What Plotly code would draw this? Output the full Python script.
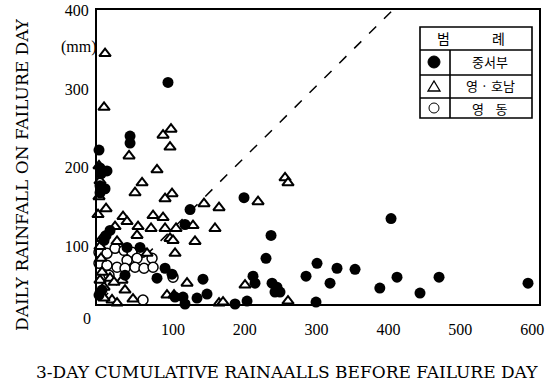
import plotly.graph_objects as go

# ---- data (x: 3-day cumulative rainfall mm, y: daily rainfall on failure day mm) ----
central_x = [93.2, 40.4, 40.4, -2.8, -1.4, 8.3, 0.0, -1.4, 5.6, -1.4, 199.0, 123.9, 116.9,
             12.5, 7.0, 4.2, 36.2, 54.3, 403.6, 236.6, 229.6, 300.6, 328.4, 353.5, 285.3,
             141.9, 211.5, 214.3, 238.0, 244.9, 249.1, 242.1, 318.7, 411.9, 470.4, 594.2,
             388.0, 443.9, 147.5, 133.6, 203.2, 186.5, 233.8, 293.6, 299.2, 353.5, 402.2,
             89.1, 98.8, 77.9, 33.4, 1.4, -2.8, 103.0, 114.1, 116.9, 109.9]
central_y = [308.6, 240.2, 231.3, 222.4, 199.6, 195.8, 192.0, 176.8, 173.0, 167.9, 161.6, 146.4, 127.4,
             119.8, 113.4, 107.1, 98.2, 98.2, 135.0, 113.4, 84.3, 77.9, 71.6, 70.3, 61.5,
             57.7, 61.5, 52.6, 52.6, 47.5, 41.2, 41.2, 52.6, 60.2, 60.2, 52.6,
             46.3, 39.9, 38.7, 33.6, 29.8, 26.0, 23.4, 24.7, 28.5, 22.2, 22.2,
             71.6, 64.0, 58.9, 62.7, 43.7, 37.4, 34.9, 34.9, 26.0, 24.7]

honam_x = [5.6, 4.2, 86.3, 97.4, 96.0, 39.0, 77.9, -2.8, -1.4, 57.1, 47.3, -2.8, 98.8, 89.1,
           143.3, 164.2, 218.5, 256.1, 260.2, 7.0, -4.2, 30.6, 36.2, 72.4, 86.3, 19.5, 51.5,
           69.6, 89.1, 104.4, 128.0, 158.6, 96.0, 100.2, 130.8, 50.1, 22.3, 1.4, 103.0, 64.0,
           -1.4, 1.4, 12.5, 29.2, -1.4, 4.2, 18.1, 33.4, 15.3, 22.3, 44.5, 91.8, 101.6, 96.0,
           119.7, 200.4, 260.2, 164.2, 169.8, 4.2, 0.0]
honam_y = [345.4, 276.9, 241.4, 249.0, 226.2, 214.8, 197.1, 202.2, 183.1, 180.6, 167.9, 162.9, 166.7, 160.3,
           154.0, 148.9, 156.5, 186.9, 180.6, 147.6, 140.0, 137.5, 131.2, 138.8, 136.2, 124.8, 124.8,
           122.3, 122.3, 122.3, 126.1, 122.3, 109.6, 107.1, 105.8, 113.4, 105.8, 109.6, 90.6, 90.6,
           99.5, 66.5, 58.9, 56.4, 56.4, 47.5, 53.9, 43.7, 31.1, 27.2, 32.3, 37.4, 37.4, 24.7,
           52.6, 50.1, 29.8, 27.2, 28.5, 33.6, 84.3]

east_x = [-2.8, 8.3, 19.5, 32.0, 43.1, 57.1, 71.0, 50.1, 36.2, -2.8, 8.3, 22.3, 33.4, 47.3,
          59.8, 11.1, 58.4, 100.2, 72.4]
east_y = [91.9, 90.6, 97.0, 94.4, 91.9, 91.9, 84.3, 84.3, 81.7, 77.9, 75.4, 72.9, 71.6, 72.9,
          71.6, 62.7, 31.1, 60.2, 72.9]

ref_x = [0, 405]
ref_y = [31, 400]

x_ticks = [100, 200, 300, 400, 500, 600]
y_ticks = [100, 200, 300, 400]

legend_title = ["범", "례"]
legend_names = ["중서부", "영 · 호남", "영    동"]

SERIF = "Liberation Serif"
WIDE_SERIF = "DejaVu Serif"
KR = "Noto Sans CJK KR"

fig = go.Figure()
fig.add_trace(go.Scatter(x=ref_x, y=ref_y, mode="lines",
                         line=dict(color="black", width=1.5, dash="10px,11px"),
                         hoverinfo="skip", showlegend=False))
fig.add_trace(go.Scatter(x=east_x, y=east_y, mode="markers", cliponaxis=False, showlegend=False,
                         marker=dict(symbol="circle", size=10, color="white",
                                     line=dict(color="black", width=1.5))))
fig.add_trace(go.Scatter(x=honam_x, y=honam_y, mode="markers", cliponaxis=False, showlegend=False,
                         marker=dict(symbol="triangle-up", size=10, color="white",
                                     line=dict(color="black", width=2))))
fig.add_trace(go.Scatter(x=central_x, y=central_y, mode="markers", cliponaxis=False, showlegend=False,
                         marker=dict(symbol="circle", size=11, color="black",
                                     line=dict(color="black", width=0))))

L, R, T, B = 97, 539, 10, 304


def px(xp):
    return (xp - L) / (R - L)


def py(yp):
    return (B - yp) / (B - T)


shapes = []
lw = 1.6
shapes.append(dict(type="rect", xref="paper", yref="paper", x0=px(420), x1=px(532), y0=py(118), y1=py(27),
                   line=dict(color="black", width=lw), fillcolor="white", layer="above"))
for yl in [50, 75, 98]:
    shapes.append(dict(type="line", xref="paper", yref="paper", x0=px(420), x1=px(532), y0=py(yl), y1=py(yl),
                       line=dict(color="black", width=lw), layer="above"))
shapes.append(dict(type="line", xref="paper", yref="paper", x0=px(450), x1=px(450), y0=py(50), y1=py(118),
                   line=dict(color="black", width=lw), layer="above"))
shapes.append(dict(type="circle", xref="paper", yref="paper", x0=px(428), x1=px(440), y0=py(68), y1=py(56),
                   fillcolor="black", line=dict(color="black", width=1), layer="above"))
shapes.append(dict(type="path", xref="paper", yref="paper",
                   path=f"M {px(428)} {py(91)} L {px(440)} {py(91)} L {px(434)} {py(81)} Z",
                   fillcolor="white", line=dict(color="black", width=1.3), layer="above"))
shapes.append(dict(type="circle", xref="paper", yref="paper", x0=px(429), x1=px(439), y0=py(113), y1=py(103),
                   fillcolor="white", line=dict(color="black", width=1), layer="above"))


def text(xp, yp, s, family, size, angle=0):
    return dict(x=px(xp), y=py(yp), xref="paper", yref="paper", text=s, showarrow=False,
                xanchor="center", yanchor="middle", textangle=angle,
                font=dict(family=family, size=size, color="black"))


ann = [text(443, 38, legend_title[0], KR, 14), text(498, 38, legend_title[1], KR, 14)]
for name, yl in zip(legend_names, [62, 86, 108]):
    ann.append(text(490, yl, name, KR, 13))
ann.append(text(79, 47, "(mm)", SERIF, 16))
ann.append(text(87, 318, "0", SERIF, 16))
ann.append(text(22, 175, "DAILY RAINFALL ON FAILURE DAY", WIDE_SERIF, 17, -90))
ann.append(text(287, 372, "3-DAY CUMULATIVE RAINAALLS BEFORE FAILURE DAY", WIDE_SERIF, 17))

fig.update_layout(
    width=545, height=389,
    margin=dict(l=L, r=545 - R, t=T, b=389 - B, autoexpand=False),
    paper_bgcolor="white", plot_bgcolor="white",
    shapes=shapes, annotations=ann,
    xaxis=dict(range=[-5.6, 609.5], tickvals=x_ticks, showgrid=False, zeroline=False,
               showline=True, linecolor="black", linewidth=2, mirror=True,
               ticks="outside", ticklen=10, tickcolor="rgba(0,0,0,0)", automargin=False,
               tickfont=dict(family=SERIF, size=16, color="black")),
    yaxis=dict(range=[26, 401], tickvals=y_ticks, showgrid=False, zeroline=False,
               showline=True, linecolor="black", linewidth=2, mirror=True,
               ticks="outside", ticklen=3, tickcolor="rgba(0,0,0,0)", automargin=False,
               tickfont=dict(family=SERIF, size=16, color="black")),
)

fig.write_html("out.html", config={"displayModeBar": False},
               post_script="document.body.style.margin='0px';")
